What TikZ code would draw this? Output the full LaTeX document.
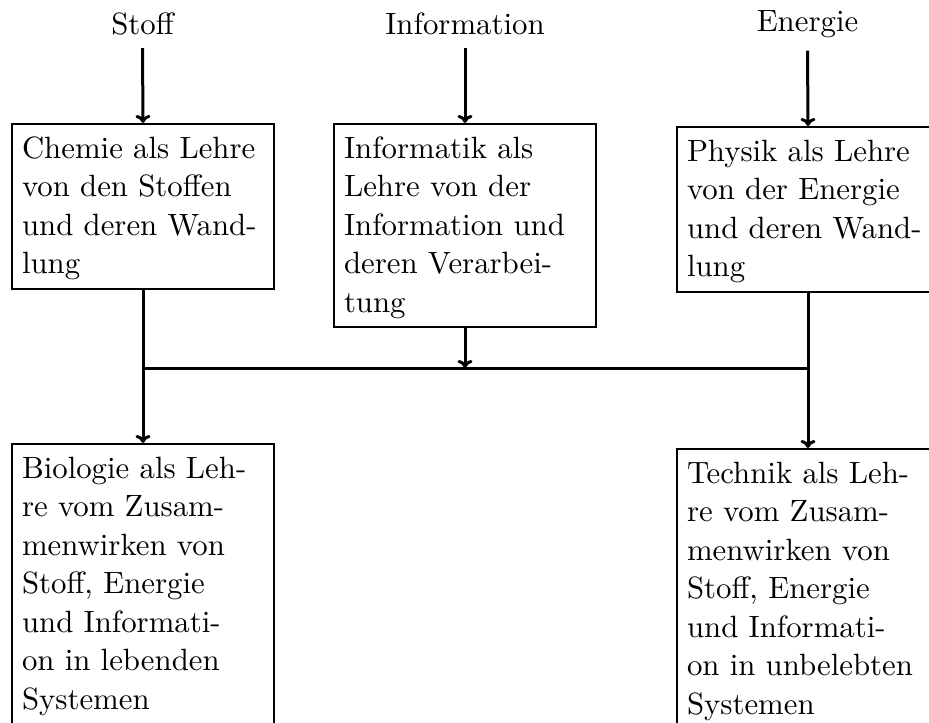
\documentclass[tikz,border=0pt]{standalone}
\usepackage{fontspec}
\setmainfont{lmroman10-regular.otf}
\usetikzlibrary{arrows.meta}
\newcommand\boxfont{\fontsize{15.4pt}{19.25pt}\selectfont}
\newcommand\fl{\rule{0pt}{12.5pt}}
\begin{document}
\begin{tikzpicture}[x=0.5pt,y=-0.5pt,
  box/.style={draw, line width=1pt, anchor=north west, text width=121pt, align=left,
    inner xsep=5pt, inner ysep=4.5pt, font=\boxfont},
  lbl/.style={inner xsep=0pt, inner ysep=6pt, anchor=base, font=\boxfont},
  arr/.style={line width=1.5pt, -{To[width=7.5pt,length=4pt]}},
  ln/.style={line width=1.5pt}]
\clip (0,0) rectangle (929,722);
\node[lbl] (stoff) at (142.5,35) {Stoff};
\node[lbl] (info) at (465,35) {Information};
\node[lbl] (energie) at (807.5,32) {Energie};
\node[box] (chemie) at (11,123) {\fl Chemie als Lehre\\von den Stoffen\\und deren Wand-\\lung};
\node[box] (informatik) at (333,123) {\fl Informatik als\\Lehre von der\\Information und\\deren Verarbei-\\tung};
\node[box] (physik) at (676,126) {\fl Physik als Lehre\\von der Energie\\und deren Wand-\\lung};
\node[box] (biologie) at (11,443) {\fl Biologie als Leh-\\re vom Zusam-\\menwirken von\\Stoff, Energie\\und Informati-\\on in lebenden\\Systemen};
\node[box] (technik) at (676,448) {\fl Technik als Leh-\\re vom Zusam-\\menwirken von\\Stoff, Energie\\und Informati-\\on in unbelebten\\Systemen};
\draw[arr] (stoff.south) -- (chemie.north);
\draw[arr] (info.south) -- (informatik.north);
\draw[arr] (energie.south) -- (physik.north);
\draw[arr] (chemie.south) -- (biologie.north);
\draw[arr] (physik.south) -- (technik.north);
\coordinate (hl) at (chemie.south |- 0,368);
\coordinate (hr) at (physik.south |- 0,368);
\draw[ln] (hl) -- (hr);
\draw[arr] (informatik.south) -- (informatik.south |- hl);
\end{tikzpicture}
\end{document}
